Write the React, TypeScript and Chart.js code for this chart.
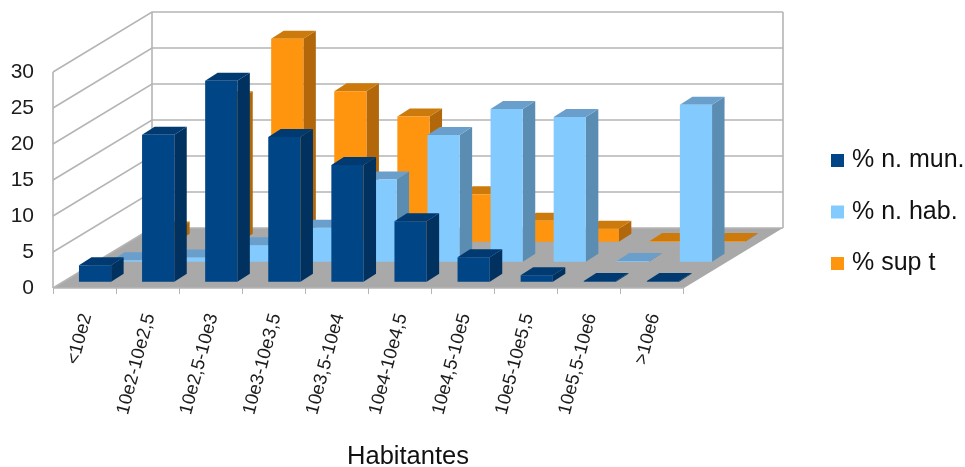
import React, { useEffect, useRef } from "react";
import { Chart, registerables } from "chart.js";

Chart.register(...registerables);

const categories = ["<10e2", "10e2-10e2,5", "10e2,5-10e3", "10e3-10e3,5", "10e3,5-10e4", "10e4-10e4,5", "10e4,5-10e5", "10e5-10e5,5", "10e5,5-10e6", ">10e6"];
const nMun = [2.3, 20.4, 27.9, 20.1, 16.2, 8.4, 3.4, 0.9, 0.1, 0.1];
const nHab = [0.2, 0.6, 2.3, 4.7, 11.4, 17.6, 21.2, 20.1, 0.1, 21.8];
const supT = [1.7, 19.8, 28.2, 20.9, 17.4, 6.6, 2.9, 1.8, 0.1, 0.1];
const yTicks = [0, 5, 10, 15, 20, 25, 30];

const FONT = "'Liberation Sans', Arial, sans-serif";
const WALL_DX = 99;
const WALL_DY = 60;
const SERIES_DX = 33;
const SERIES_DY = 20;
const GAP_DX = 10.5;
const GAP_DY = 6.3;
const BAR_DX = 12.5;
const BAR_DY = 8;

const palette = [
  { front: "#004586", side: "#00315f", top: "#003a70" },
  { front: "#83caff", side: "#5b8db3", top: "#6a9fcc" },
  { front: "#ff950e", side: "#b2680a", top: "#cc7a0c" },
];

function poly(ctx: CanvasRenderingContext2D, pts: number[][], fill: string) {
  ctx.beginPath();
  pts.forEach((p, i) => (i ? ctx.lineTo(p[0], p[1]) : ctx.moveTo(p[0], p[1])));
  ctx.closePath();
  ctx.fillStyle = fill;
  ctx.fill();
}

const scene3d = {
  id: "scene3d",
  afterLayout(chart: any) {
    const l = chart.legend;
    l.left = 809; l.right = 965; l.top = 121.5; l.bottom = 467;
    const t = chart.titleBlock;
    t.left = 308; t.right = 508; t.top = 442; t.bottom = 467;
  },
  beforeDatasetsDraw(chart: any) {
    const { ctx, chartArea: a, scales } = chart;
    const y = scales.y;
    const base = y.getPixelForValue(0);
    ctx.save();
    poly(ctx, [[a.left, base], [a.right, base], [a.right + WALL_DX, base - WALL_DY], [a.left + WALL_DX, base - WALL_DY]], "#a9a9a9");
    ctx.strokeStyle = "#b5b5b5";
    ctx.lineWidth = 1.6;
    yTicks.forEach((v) => {
      const py = y.getPixelForValue(v);
      ctx.beginPath();
      ctx.moveTo(a.left, py);
      ctx.lineTo(a.left + WALL_DX, py - WALL_DY);
      ctx.lineTo(a.right + WALL_DX, py - WALL_DY);
      ctx.stroke();
    });
    ctx.beginPath();
    ctx.moveTo(a.left, base);
    ctx.lineTo(a.left, a.top);
    ctx.moveTo(a.left + WALL_DX, base - WALL_DY);
    ctx.lineTo(a.left + WALL_DX, a.top - WALL_DY);
    ctx.moveTo(a.right + WALL_DX, base - WALL_DY);
    ctx.lineTo(a.right + WALL_DX, a.top - WALL_DY);
    ctx.moveTo(a.left, base);
    ctx.lineTo(a.right, base);
    ctx.stroke();

    for (let s = chart.data.datasets.length - 1; s >= 0; s--) {
      const meta = chart.getDatasetMeta(s);
      const c = palette[s];
      const sx = GAP_DX + SERIES_DX * s;
      const sy = GAP_DY + SERIES_DY * s;
      meta.data.forEach((el: any) => {
        const { x, y: top, base: b, width } = el.getProps(["x", "y", "base", "width"], true);
        const l = x - width / 2 + sx;
        const r = x + width / 2 + sx;
        const t = top - sy;
        const bt = b - sy;
        poly(ctx, [[r, t], [r + BAR_DX, t - BAR_DY], [r + BAR_DX, bt - BAR_DY], [r, bt]], c.side);
        poly(ctx, [[l, t], [l + BAR_DX, t - BAR_DY], [r + BAR_DX, t - BAR_DY], [r, t]], c.top);
        poly(ctx, [[l, t], [r, t], [r, bt], [l, bt]], c.front);
      });
    }
    ctx.restore();
    return false;
  },
};

export default function App() {
  const ref = useRef<HTMLCanvasElement>(null);
  useEffect(() => {
    const chart = new Chart(ref.current as HTMLCanvasElement, {
      type: "bar",
      data: {
        labels: categories,
        datasets: [
          { label: "% n. mun.", data: nMun, backgroundColor: palette[0].front },
          { label: "% n. hab.", data: nHab, backgroundColor: palette[1].front },
          { label: "% sup t", data: supT, backgroundColor: palette[2].front },
        ],
      },
      options: {
        responsive: false,
        animation: false,
        layout: { padding: { top: 72, left: 0, right: 281, bottom: 0 } },
        datasets: { bar: { grouped: false, categoryPercentage: 1, barPercentage: 0.51 } },
        scales: {
          x: {
            afterFit: (s: any) => { s.height = 148.4; },
            border: { display: false },
            grid: { offset: true, drawOnChartArea: false, drawTicks: true, tickLength: 6, color: "#b5b5b5" },
            ticks: { autoSkip: false, minRotation: 75, maxRotation: 75, padding: 17, labelOffset: 2, color: "#1c1c1c", font: { family: FONT, size: 18.5 } },
          },
          y: {
            min: 0,
            max: 30,
            afterFit: (s: any) => { s.width = 53; },
            border: { display: false },
            grid: { display: false },
            ticks: { stepSize: 5, padding: 11, color: "#1c1c1c", font: { family: FONT, size: 21 } },
          },
        },
        plugins: {
          tooltip: { enabled: false },
          title: { display: true, text: "Habitantes", position: "bottom", padding: 0, color: "#111", font: { family: FONT, size: 25.5, weight: "normal" } },
          legend: {
            display: true,
            position: "chartArea",
            align: "start",
            labels: { usePointStyle: true, pointStyle: "rect", boxWidth: 4, boxHeight: 13, padding: 26.5, color: "#111", font: { family: FONT, size: 25 } },
          },
        },
      } as any,
      plugins: [scene3d as any],
    });
    return () => chart.destroy();
  }, []);
  return <canvas ref={ref} width={965} height={467} style={{ position: "fixed", left: 0, top: 0, width: 965, height: 467 }} />;
}
